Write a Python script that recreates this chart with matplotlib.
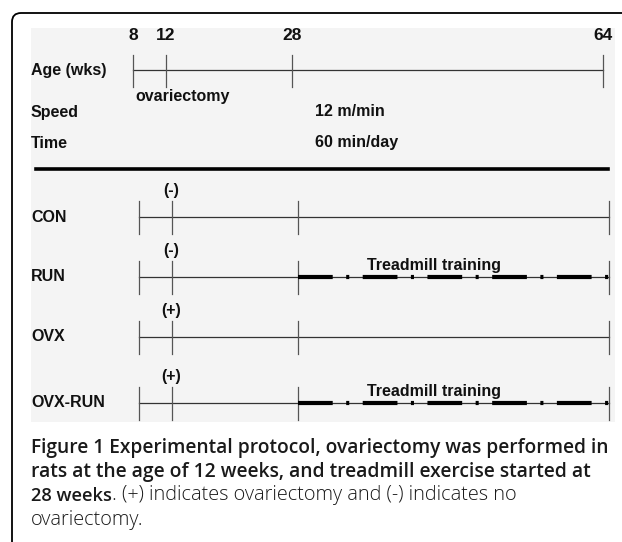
import numpy as np
import matplotlib
matplotlib.use('Agg')
import matplotlib.pyplot as plt
import matplotlib.transforms as mtransforms
from matplotlib.patches import FancyBboxPatch

plt.rcParams['lines.scale_dashes'] = False

# 数据：时间点（周）与各组
age_weeks = [8, 12, 28, 64]
ovx_week = 12
train_start = 28
train_end = 64
speed_text = '12 m/min'
time_text = '60 min/day'
groups = ['CON', 'RUN', 'OVX', 'OVX-RUN']
ovx_marks = ['(-)', '(-)', '(+)', '(+)']
trained = [False, True, False, True]

caption_bold = ['Figure 1 Experimental protocol, ovariectomy was performed in',
                'rats at the age of 12 weeks, and treadmill exercise started at',
                '28 weeks']
caption_rest = '. (+) indicates ovariectomy and (-) indicates no'
caption_last = 'ovariectomy.'

W, H = 622, 542
fig = plt.figure(figsize=(W / 100, H / 100), dpi=100)

# 外框（左上圆角）
bg = fig.add_axes([0, 0, 1, 1], zorder=0)
bg.set_xlim(0, W)
bg.set_ylim(H, 0)
bg.axis('off')
bg.add_patch(FancyBboxPatch((12, 13), 700, 600, boxstyle='round,pad=0,rounding_size=9',
                            fc='white', ec='black', lw=1.3))

# 灰色面板
px0, py0, px1, py1 = 31, 28, 615, 422
ax = fig.add_axes([px0 / W, 1 - py1 / H, (px1 - px0) / W, (py1 - py0) / H], zorder=1)
ax.set_facecolor('#f4f4f4')
for s in ax.spines.values():
    s.set_visible(False)

# 示意性的时间轴（非等比）
wk_knots = [-100, 8, 12, 28, 64, 200]
pos_knots = [-891, 0, 33, 159, 470, 1645]
ax.set_xscale('function', functions=(lambda w: np.interp(w, wk_knots, pos_knots),
                                     lambda p: np.interp(p, pos_knots, wk_knots)))
ax.set_xlim(8 - 102 / 8.25, 64 + 12 / 8.64)
ax.set_ylim(py1, py0)
ax.set_xticks([])
ax.set_yticks([])
ax.minorticks_off()
ytr = ax.get_yaxis_transform()
gtr = mtransforms.offset_copy(ax.transData, fig=fig, x=5.5, y=0, units='dots')

lab = dict(fontfamily='Liberation Sans', fontweight='bold', fontsize=11.5, color='#111111')

# 年龄轴
age_y = 70
ax.plot([age_weeks[0], age_weeks[-1]], [age_y, age_y], color='#333333', lw=0.9)
for w in age_weeks:
    ax.plot([w, w], [age_y - 15, age_y + 17], color='#555555', lw=0.9)
    ax.text(w, 36, str(w), ha='center', va='center', **{**lab, 'fontsize': 12.5})
ax.text(0.0, age_y, 'Age (wks)', transform=ytr, ha='left', va='center', **lab)
ax.text(8.24, 96, 'ovariectomy', ha='left', va='center', **lab)
ax.text(0.0, 112, 'Speed', transform=ytr, ha='left', va='center', **lab)
ax.text(0.0, 143, 'Time', transform=ytr, ha='left', va='center', **lab)
ax.text(30.7, 112, speed_text, ha='left', va='center', **lab)
ax.text(30.7, 143, time_text, ha='left', va='center', **lab)
ax.axhline(169, xmin=0.009, xmax=0.988, color='black', lw=2.6)

# 各组时间线
row_y = [217, 277, 337, 403]
for g, m, t, y in zip(groups, ovx_marks, trained, row_y):
    ax.plot([age_weeks[0], age_weeks[-1]], [y, y], color='#333333', lw=0.9, transform=gtr)
    for w in age_weeks:
        ax.plot([w, w], [y - 16, y + 17], color='#555555', lw=0.9, transform=gtr)
    ax.text(0.0, y, g, transform=ytr, ha='left', va='center', **lab)
    ax.text(ovx_week, y - 26, m, ha='center', va='center', transform=gtr, **lab)
    if t:
        ax.plot([train_start, train_end], [y, y], color='black', lw=3.0, transform=gtr,
                dashes=(25, 9.7, 2.2, 9.7), solid_capstyle='butt', dash_capstyle='butt')
        ax.text(36.0, y - 11, 'Treadmill training', ha='left', va='center', transform=gtr, **lab)

# 图注
cap = dict(fontfamily='Open Sans', color='#1a1a1a')
fig.text(px0 / W, 1 - 453 / H, caption_bold[0], ha='left', va='baseline',
         fontweight='semibold', fontsize=13.8, **cap)
fig.text(px0 / W, 1 - 477 / H, caption_bold[1], ha='left', va='baseline',
         fontweight='semibold', fontsize=13.9, **cap)
t1 = fig.text(px0 / W, 1 - 501 / H, caption_bold[2], ha='left', va='baseline',
              fontweight='semibold', fontsize=13.2, **cap)
fig.add_artist(plt.Annotation(caption_rest, xy=(1, 0), xycoords=t1, ha='left', va='bottom',
                              fontweight='light', fontsize=14.3, **cap))
fig.text(px0 / W, 1 - 525 / H, caption_last, ha='left', va='baseline',
         fontweight='light', fontsize=14.3, **cap)

fig.savefig('out.png', dpi=100)
